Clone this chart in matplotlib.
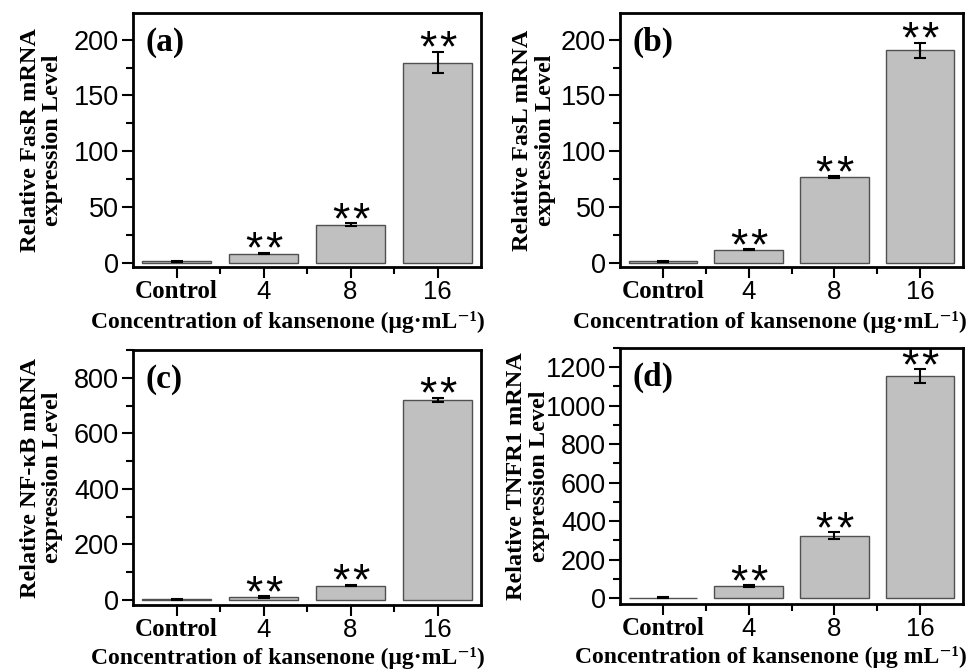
import numpy as np
import matplotlib
matplotlib.use("Agg")
import matplotlib.pyplot as plt
from matplotlib.ticker import MultipleLocator, FixedLocator

plt.rcParams['font.family'] = ['Liberation Sans', 'DejaVu Sans']

# data
categories = ['Control', '4', '8', '16']

fasr = [1.0, 8.0, 34.0, 179.5]
fasr_err = [0.5, 0.6, 1.2, 9.5]

fasl = [1.0, 11.5, 76.5, 190.5]
fasl_err = [0.4, 0.5, 1.0, 6.5]

nfkb = [3.0, 11.0, 52.0, 720.0]
nfkb_err = [1.5, 2.0, 3.0, 8.0]

tnfr1 = [3.0, 63.0, 325.0, 1155.0]
tnfr1_err = [2.0, 4.0, 17.0, 35.0]

stars = ['', '**', '**', '**']

W, H = 969, 670
fig = plt.figure(figsize=(W / 100, H / 100), dpi=100)


def px_axes(left, right, top, bottom):
    return fig.add_axes([left / W, 1 - bottom / H, (right - left) / W, (bottom - top) / H])


serif_b = dict(family=['Liberation Serif', 'DejaVu Serif'], weight='bold')

panels = [
    dict(box=(133, 481, 13, 267), vals=fasr, err=fasr_err, tag='(a)', ylx=-0.20, xly=-0.239,
         ylab='Relative FasR mRNA\nexpression Level', ylim=(-4, 224), major=50, minor=25,
         xlab='Concentration of kansenone (μg·mL⁻¹)'),
    dict(box=(620, 963, 13, 267), vals=fasl, err=fasl_err, tag='(b)', ylx=-0.187, xly=-0.239,
         ylab='Relative FasL mRNA\nexpression Level', ylim=(-4, 224), major=50, minor=25,
         xlab='Concentration of kansenone (μg·mL⁻¹)'),
    dict(box=(133, 481, 350, 605), vals=nfkb, err=nfkb_err, tag='(c)', ylx=-0.20, xly=-0.231,
         ylab='Relative NF-κB mRNA\nexpression Level', ylim=(-18, 900), major=200, minor=100,
         xlab='Concentration of kansenone (μg·mL⁻¹)'),
    dict(box=(620, 963, 348, 604), vals=tnfr1, err=tnfr1_err, tag='(d)', ylx=-0.205, xly=-0.231,
         ylab='Relative TNFR1 mRNA\nexpression Level', ylim=(-30, 1300), major=200, minor=100,
         xlab='Concentration of kansenone (μg mL⁻¹)'),
]

x = np.arange(len(categories))

for p in panels:
    ax = px_axes(*p['box'])
    ax.bar(x, p['vals'], width=0.8, color='#c0c0c0', edgecolor='#505050', linewidth=1.0, zorder=2)
    ax.errorbar(x, p['vals'], yerr=p['err'], fmt='none', ecolor='black',
                elinewidth=1.5, capsize=4, capthick=1.5, zorder=3)
    # significance stars, one glyph at a time so they keep a small gap
    for xi, v, e, s in zip(x, p['vals'], p['err'], stars):
        n = len(s)
        for k, ch in enumerate(s):
            dx = (k - (n - 1) / 2) * 14.5
            ax.annotate(ch, (xi, v + e), xytext=(dx, -7), textcoords='offset points',
                        ha='center', va='baseline', fontsize=32,
                        family='Liberation Sans')

    ax.set_xlim(-0.5, 3.5)
    ax.set_ylim(*p['ylim'])
    ax.set_xticks(x)
    ax.set_xticklabels(categories)
    ax.xaxis.set_minor_locator(FixedLocator([0.5, 1.5, 2.5]))
    ax.yaxis.set_major_locator(MultipleLocator(p['major']))
    ax.yaxis.set_minor_locator(MultipleLocator(p['minor']))
    ax.tick_params(axis='both', which='major', direction='out', length=8, width=1.5, pad=2)
    ax.tick_params(axis='y', which='major', labelsize=19.5)
    ax.tick_params(axis='x', which='major', labelsize=18.5, pad=1.5)
    ax.tick_params(axis='both', which='minor', direction='out', length=5, width=1.5)
    for lbl in ax.get_xticklabels():
        if lbl.get_text() == 'Control':
            lbl.set_fontfamily('Liberation Serif')
            lbl.set_fontweight('bold')
            lbl.set_fontsize(18)
    for sp in ax.spines.values():
        sp.set_linewidth(2)

    ax.set_ylabel(p['ylab'], fontsize=17.5, linespacing=1.1, **serif_b)
    ax.yaxis.set_label_coords(p['ylx'], 0.5)
    ax.set_xlabel(p['xlab'], fontsize=17, ha='right', va='baseline', **serif_b)
    ax.xaxis.set_label_coords(1.01, p['xly'])
    ax.text(0.035, 0.885, p['tag'], transform=ax.transAxes, fontsize=24,
            ha='left', va='center', **serif_b)

fig.savefig('out.png', dpi=100)
